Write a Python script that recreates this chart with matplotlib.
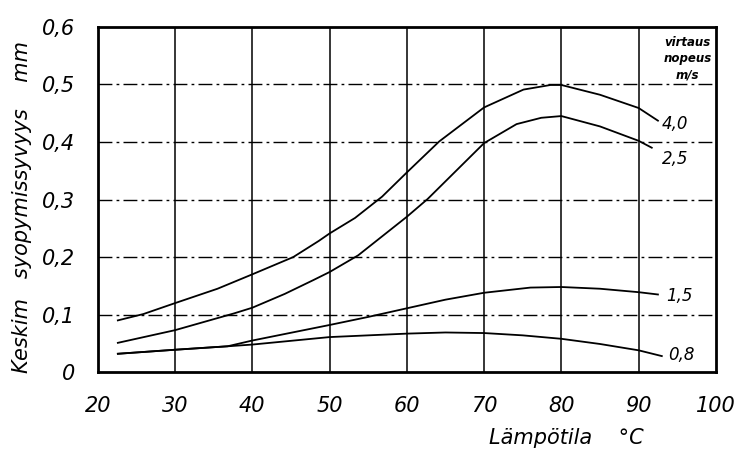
import matplotlib
matplotlib.use("Agg")
import matplotlib.pyplot as plt

# temperature (C) and mean corrosion depth (mm)
temp_40 = [22.6, 25.9, 30, 35.5, 40, 45.3, 48.6, 50, 53.3, 56.8, 60, 64.2,
           70, 75.1, 78.6, 80, 85, 90, 92.5]
depth_40 = [0.090, 0.101, 0.120, 0.145, 0.170, 0.200, 0.228, 0.241, 0.268, 0.305,
            0.347, 0.401, 0.460, 0.491, 0.499, 0.499, 0.482, 0.459, 0.437]

temp_25 = [22.6, 30, 37.6, 40, 44.2, 47.9, 50, 53.7, 60, 62.7, 70, 74.2, 77.4,
           80, 85, 90, 91.7]
depth_25 = [0.051, 0.073, 0.102, 0.112, 0.136, 0.160, 0.174, 0.203, 0.270, 0.301,
            0.398, 0.431, 0.442, 0.445, 0.427, 0.402, 0.390]

temp_15 = [22.6, 30, 36.8, 40, 50, 55, 60, 65, 70, 76, 80, 85, 90, 92.5]
depth_15 = [0.032, 0.039, 0.045, 0.055, 0.082, 0.096, 0.111, 0.126, 0.138, 0.147,
            0.148, 0.145, 0.139, 0.135]

temp_08 = [22.6, 30, 36.8, 40, 50, 55, 60, 65, 70, 75, 80, 85, 90, 93]
depth_08 = [0.032, 0.039, 0.045, 0.048, 0.061, 0.064, 0.067, 0.069, 0.068, 0.064,
            0.058, 0.049, 0.038, 0.028]

speed_labels = ["4,0", "2,5", "1,5", "0,8"]
x_ticks = [20, 30, 40, 50, 60, 70, 80, 90, 100]
y_ticks = [0, 0.1, 0.2, 0.3, 0.4, 0.5, 0.6]
y_tick_labels = ["0", "0,1", "0,2", "0,3", "0,4", "0,5", "0,6"]

FONT = ["DejaVu Sans Condensed", "DejaVu Sans"]

fig = plt.figure(figsize=(7.35, 4.55), dpi=100)
ax = fig.add_axes([0.133, 0.182, 0.841, 0.759])

ax.set_xlim(20, 100)
ax.set_ylim(0, 0.6)

# grid: solid verticals, dash-dot horizontals
for x in x_ticks[1:-1]:
    ax.axvline(x, color="black", lw=1.1, zorder=1)
for y in y_ticks[1:-1]:
    ax.axhline(y, color="black", lw=1.0, dashes=(10, 3, 2, 3), zorder=1)

series = [(temp_40, depth_40), (temp_25, depth_25), (temp_15, depth_15), (temp_08, depth_08)]
for t, d in series:
    ax.plot(t, d, color="black", lw=1.3, zorder=2, solid_joinstyle="round")

# curve labels just past the right-hand ends
label_pos = [(93.0, 0.432), (93.0, 0.371), (93.6, 0.132), (93.8, 0.030)]
for (x, y), lab in zip(label_pos, speed_labels):
    ax.text(x, y, lab, fontsize=12, fontstyle="italic", family=FONT,
            va="center", ha="left")

ax.text(96.3, 0.545, "virtaus\nnopeus\nm/s", fontsize=8.5, fontstyle="italic",
        fontweight="bold", family=FONT, ha="center", va="center", linespacing=1.3)

for s in ax.spines.values():
    s.set_linewidth(2.0)

ax.set_xticks(x_ticks)
ax.set_xticklabels([str(v) for v in x_ticks], fontsize=15, fontstyle="italic", family=FONT)
ax.set_yticks(y_ticks)
ax.set_yticklabels(y_tick_labels, fontsize=15, fontstyle="italic", family=FONT)
ax.tick_params(axis="x", length=0, pad=17)
ax.tick_params(axis="y", length=0, pad=16)

fig.text(0.030, 0.545, "Keskim   syopymissyvyys    mm", rotation=90, fontsize=15,
         fontstyle="italic", family=FONT, ha="center", va="center")
fig.text(0.77, 0.038, "Lämpötila    °C", fontsize=15, fontstyle="italic",
         family=FONT, ha="center", va="center")

fig.savefig("out.png", dpi=100, facecolor="white")
